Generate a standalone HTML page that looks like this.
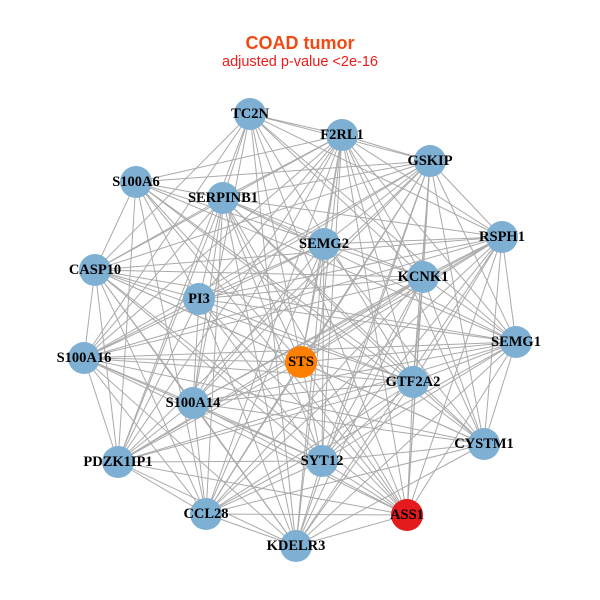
<!DOCTYPE html>
<html><head><meta charset="utf-8"><style>
html,body{margin:0;padding:0;background:#fff;}
svg{display:block}
.l{font-family:"Liberation Serif",serif;font-weight:bold;font-size:14.5px;fill:#000;text-anchor:middle;dominant-baseline:central}
</style></head><body>
<svg id="s" width="600" height="600" xmlns="http://www.w3.org/2000/svg">
<text x="300" y="49" text-anchor="middle" font-family="Liberation Sans,sans-serif" font-weight="bold" font-size="18" fill="#f04a12">COAD tumor</text>
<text x="300" y="66" text-anchor="middle" font-family="Liberation Sans,sans-serif" font-size="14.5" fill="#f01a1a">adjusted p-value &lt;2e-16</text>
<g id="e" stroke="#aaaaaa" stroke-width="1"></g>
<g id="n"></g>
</svg>
<script>
var N=[["TC2N",250,114],["F2RL1",342,135],["GSKIP",430,161],["S100A6",136,182],["SERPINB1",223,198],["RSPH1",502,237],["SEMG2",324,244],["CASP10",95,270],["KCNK1",423,277],["PI3",199,299],["SEMG1",516,342],["S100A16",84,358],["STS",301,362],["GTF2A2",413,382],["S100A14",193,403],["CYSTM1",484,444],["PDZK1IP1",118,462],["SYT12",322,461],["CCL28",206,514],["ASS1",407,515],["KDELR3",296,546]];
var ns="http://www.w3.org/2000/svg",e=document.getElementById("e"),g=document.getElementById("n");
for(var i=0;i<N.length;i++)for(var j=i+1;j<N.length;j++){
 if((i*7+j*3)%9==0)continue;
 var l=document.createElementNS(ns,"line");
 l.setAttribute("x1",N[i][1]);l.setAttribute("y1",N[i][2]);l.setAttribute("x2",N[j][1]);l.setAttribute("y2",N[j][2]);e.appendChild(l);}
N.forEach(function(d){
 var c=document.createElementNS(ns,"circle");c.setAttribute("cx",d[1]);c.setAttribute("cy",d[2]);c.setAttribute("r",16);
 c.setAttribute("fill",d[0]=="STS"?"#ff7f00":d[0]=="ASS1"?"#e41a1c":"#7eb0d4");g.appendChild(c);});
N.forEach(function(d){
 var t=document.createElementNS(ns,"text");t.setAttribute("x",d[1]);t.setAttribute("y",d[2]);t.setAttribute("class","l");t.textContent=d[0];g.appendChild(t);});
</script>
</body></html>
